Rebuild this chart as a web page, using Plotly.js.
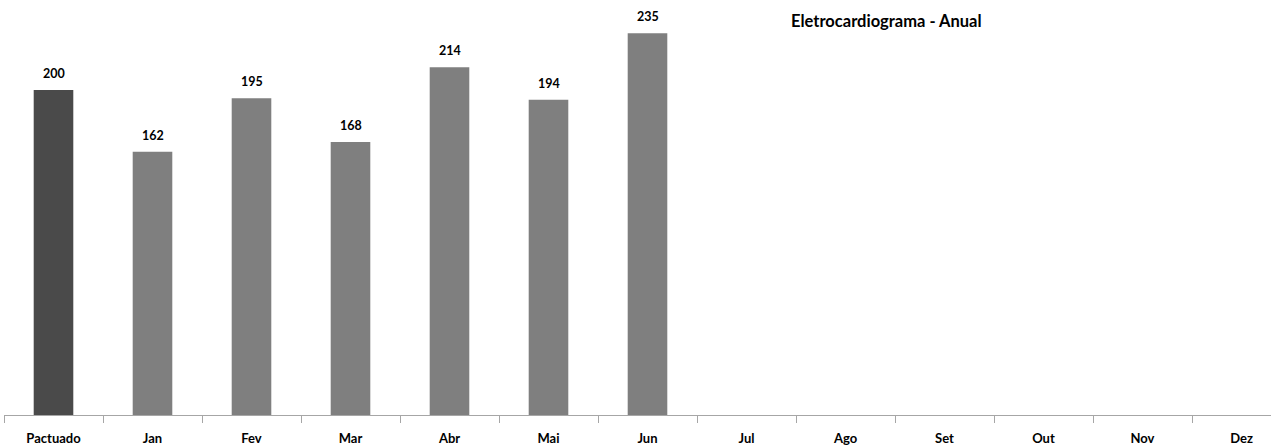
<!DOCTYPE html>
<html>
<head>
<meta charset="utf-8">
<script src="https://cdn.plot.ly/plotly-3.0.1.min.js"></script>
<style>html,body{margin:0;padding:0;background:#fff;}#chart{width:1271px;height:445px;}</style>
</head>
<body>
<div id="chart"></div>
<script>
const categories = ["Pactuado","Jan","Fev","Mar","Abr","Mai","Jun","Jul","Ago","Set","Out","Nov","Dez"];
const values = [200,162,195,168,214,194,235,null,null,null,null,null,null];
const barColors = ["#4a4a4a","#7f7f7f","#7f7f7f","#7f7f7f","#7f7f7f","#7f7f7f","#7f7f7f","#7f7f7f","#7f7f7f","#7f7f7f","#7f7f7f","#7f7f7f","#7f7f7f"];
const chartTitle = "Eletrocardiograma - Anual";

const font = "Lato, 'Open Sans', sans-serif";
const annotations = [];
categories.forEach((c, i) => {
  if (values[i] !== null) {
    annotations.push({x: c, y: values[i], xref: 'x', yref: 'y', text: '<b>' + values[i] + '</b>',
      showarrow: false, yanchor: 'bottom', yshift: 7, font: {family: font, size: 12.5, color: '#000'}});
  }
});
annotations.push({x: (886 - 4) / 1267, xref: 'paper', xanchor: 'center', y: (415 - 21) / 415, yref: 'paper', yanchor: 'middle',
  text: '<b>' + chartTitle + '</b>', showarrow: false, font: {family: font, size: 16.5, color: '#000'}});

const trace = {
  type: 'bar', x: categories, y: values,
  marker: {color: barColors}, width: 0.4, hoverinfo: 'none'
};
const layout = {
  width: 1271, height: 445,
  margin: {l: 4, r: 0, t: 0, b: 30},
  paper_bgcolor: '#fff', plot_bgcolor: '#fff',
  showlegend: false,
  xaxis: {type: 'category', range: [-0.5, 12.298], showline: true, linecolor: '#a6a6a6', linewidth: 1,
    ticks: 'outside', tickson: 'boundaries', ticklen: 7, tickcolor: '#a6a6a6', showgrid: false,
    ticklabelstandoff: 11,
    tickfont: {family: font, size: 13, color: '#000', weight: 'bold'}, fixedrange: true},
  yaxis: {range: [0, 255.4], visible: false, showgrid: false, zeroline: false, fixedrange: true},
  annotations: annotations
};
Plotly.newPlot('chart', [trace], layout, {displayModeBar: false, staticPlot: true});
</script>
</body>
</html>
